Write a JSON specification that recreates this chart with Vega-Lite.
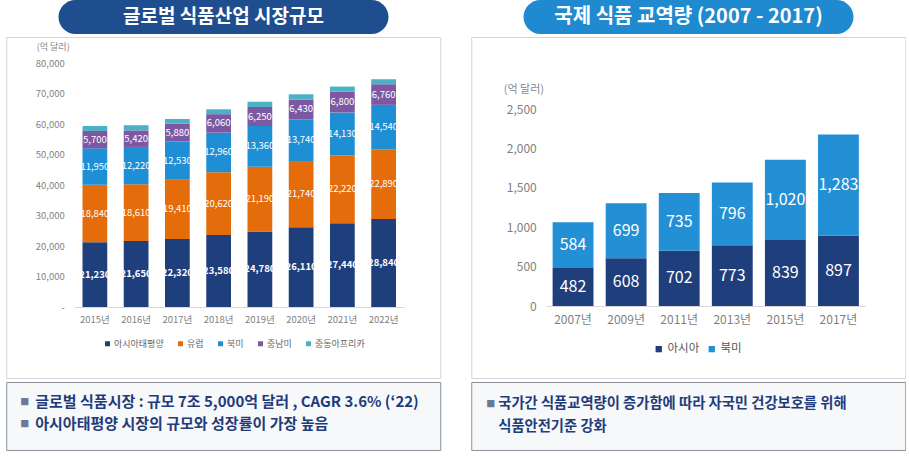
{
  "$schema": "https://vega.github.io/schema/vega-lite/v6.json",
  "background": "white",
  "padding": {"left": 5, "top": 0, "right": 0, "bottom": 0},
  "config": {"font": "Noto Sans CJK KR", "view": {"stroke": null}},
  "spacing": 29,
  "resolve": {"scale": {"color": "independent"}, "legend": {"color": "independent"}},
  "hconcat": [
    {
      "spacing": 2,
      "center": true,
      "vconcat": [
        {
          "width": 330,
          "height": 34,
          "view": {"fill": "#1f4e8e", "stroke": null, "cornerRadius": 17},
          "data": {"values": [{"t": "글로벌 식품산업 시장규모"}]},
          "mark": {"type": "text", "color": "white", "fontSize": 19, "fontWeight": "bold"},
          "encoding": {"text": {"field": "t"}}
        },
        {
          "width": 434,
          "height": 341,
          "view": {"stroke": "#d4d4d4", "fill": "white"},
          "data": {
            "values": [
              {"year": "2015년", "region": "아시아태평양", "ord": 1, "value": 21230},
              {"year": "2015년", "region": "유럽", "ord": 2, "value": 18840},
              {"year": "2015년", "region": "북미", "ord": 3, "value": 11950},
              {"year": "2015년", "region": "중남미", "ord": 4, "value": 5700},
              {"year": "2015년", "region": "중동아프리카", "ord": 5, "value": 1620},
              {"year": "2016년", "region": "아시아태평양", "ord": 1, "value": 21650},
              {"year": "2016년", "region": "유럽", "ord": 2, "value": 18610},
              {"year": "2016년", "region": "북미", "ord": 3, "value": 12220},
              {"year": "2016년", "region": "중남미", "ord": 4, "value": 5420},
              {"year": "2016년", "region": "중동아프리카", "ord": 5, "value": 1700},
              {"year": "2017년", "region": "아시아태평양", "ord": 1, "value": 22320},
              {"year": "2017년", "region": "유럽", "ord": 2, "value": 19410},
              {"year": "2017년", "region": "북미", "ord": 3, "value": 12530},
              {"year": "2017년", "region": "중남미", "ord": 4, "value": 5880},
              {"year": "2017년", "region": "중동아프리카", "ord": 5, "value": 1500},
              {"year": "2018년", "region": "아시아태평양", "ord": 1, "value": 23580},
              {"year": "2018년", "region": "유럽", "ord": 2, "value": 20620},
              {"year": "2018년", "region": "북미", "ord": 3, "value": 12960},
              {"year": "2018년", "region": "중남미", "ord": 4, "value": 6060},
              {"year": "2018년", "region": "중동아프리카", "ord": 5, "value": 1600},
              {"year": "2019년", "region": "아시아태평양", "ord": 1, "value": 24780},
              {"year": "2019년", "region": "유럽", "ord": 2, "value": 21190},
              {"year": "2019년", "region": "북미", "ord": 3, "value": 13360},
              {"year": "2019년", "region": "중남미", "ord": 4, "value": 6250},
              {"year": "2019년", "region": "중동아프리카", "ord": 5, "value": 1720},
              {"year": "2020년", "region": "아시아태평양", "ord": 1, "value": 26110},
              {"year": "2020년", "region": "유럽", "ord": 2, "value": 21740},
              {"year": "2020년", "region": "북미", "ord": 3, "value": 13740},
              {"year": "2020년", "region": "중남미", "ord": 4, "value": 6430},
              {"year": "2020년", "region": "중동아프리카", "ord": 5, "value": 1720},
              {"year": "2021년", "region": "아시아태평양", "ord": 1, "value": 27440},
              {"year": "2021년", "region": "유럽", "ord": 2, "value": 22220},
              {"year": "2021년", "region": "북미", "ord": 3, "value": 14130},
              {"year": "2021년", "region": "중남미", "ord": 4, "value": 6800},
              {"year": "2021년", "region": "중동아프리카", "ord": 5, "value": 1680},
              {"year": "2022년", "region": "아시아태평양", "ord": 1, "value": 28840},
              {"year": "2022년", "region": "유럽", "ord": 2, "value": 22890},
              {"year": "2022년", "region": "북미", "ord": 3, "value": 14540},
              {"year": "2022년", "region": "중남미", "ord": 4, "value": 6760},
              {"year": "2022년", "region": "중동아프리카", "ord": 5, "value": 1650}
            ]
          },
          "transform": [
            {"stack": "value", "groupby": ["year"], "sort": [{"field": "ord", "order": "ascending"}], "as": ["v0", "v1"]},
            {"calculate": "(datum.v0 + datum.v1) / 2", "as": "mid"}
          ],
          "encoding": {
            "x": {
              "field": "year", "type": "nominal",
              "scale": {"range": [68, 398], "paddingInner": 0.4, "paddingOuter": 0.2},
              "axis": {"title": null, "orient": "bottom", "offset": -71, "domainColor": "#d9d9d9", "ticks": false, "labelPadding": 7, "labelFontSize": 9.5, "labelColor": "#7f7f7f", "labelAngle": 0}
            }
          },
          "layer": [
            {
              "mark": {"type": "bar"},
              "encoding": {
                "y": {
                  "field": "v0", "type": "quantitative", "title": "(억 달러)",
                  "scale": {"domain": [0, 80000], "range": [270, 26], "nice": false},
                  "axis": {
                    "title": "(억 달러)", "titleAngle": 0, "titleAlign": "left", "titleBaseline": "middle", "titleX": -38, "titleY": 9,
                    "titleFontSize": 9, "titleFontWeight": "normal", "titleColor": "#888888",
                    "values": [0, 10000, 20000, 30000, 40000, 50000, 60000, 70000, 80000],
                    "labelExpr": "datum.value == 0 ? '-' : format(datum.value, ',')",
                    "labelFontSize": 9.5, "labelColor": "#7f7f7f", "domain": false, "ticks": false, "grid": false, "offset": -68, "labelPadding": 10
                  }
                },
                "y2": {"field": "v1"},
                "color": {
                  "field": "region", "type": "nominal",
                  "scale": {"domain": ["아시아태평양", "유럽", "북미", "중남미", "중동아프리카"], "range": ["#1f3e7c", "#e46c0a", "#1f8fd5", "#7d58a2", "#4bb2c5"]},
                  "legend": {"title": null, "orient": "none", "legendX": 97, "legendY": 339, "direction": "horizontal", "symbolType": "square", "symbolSize": 25, "symbolStrokeWidth": 0, "labelFontSize": 9, "labelColor": "#666666", "columnPadding": 12, "labelOffset": 2}
                }
              }
            },
            {
              "transform": [{"filter": "datum.ord == 1"}],
              "mark": {"type": "text", "color": "white", "fontSize": 9.5, "fontWeight": "bold"},
              "encoding": {
                "y": {"field": "mid", "type": "quantitative", "title": "(억 달러)"},
                "text": {"field": "value", "type": "quantitative", "format": ","}
              }
            },
            {
              "transform": [{"filter": "datum.ord >= 2 && datum.ord <= 4"}],
              "mark": {"type": "text", "color": "white", "fontSize": 9.5},
              "encoding": {
                "y": {"field": "mid", "type": "quantitative", "title": "(억 달러)"},
                "text": {"field": "value", "type": "quantitative", "format": ","}
              }
            }
          ]
        },
        {
          "width": 434,
          "height": 68,
          "view": {"stroke": "#8a8f99", "fill": "#f7f8fa"},
          "data": {"values": [
            {"line": 1, "b": "■", "t": "글로벌 식품시장 : 규모 7조 5,000억 달러 , CAGR 3.6% (‘22)"},
            {"line": 2, "b": "■", "t": "아시아태평양 시장의 규모와 성장률이 가장 높음"}
          ]},
          "encoding": {"y": {"field": "line", "type": "ordinal", "axis": null, "scale": {"type": "point", "range": [20, 42], "padding": 0}}},
          "layer": [
            {"mark": {"type": "text", "align": "left", "fontSize": 9, "color": "#6a7a96"}, "encoding": {"x": {"value": 14}, "text": {"field": "b"}}},
            {"mark": {"type": "text", "align": "left", "fontSize": 15, "fontWeight": "bold", "color": "#1f3c7a"}, "encoding": {"x": {"value": 29}, "text": {"field": "t"}}}
          ]
        }
      ]
    },
    {
      "spacing": 2,
      "center": true,
      "vconcat": [
        {
          "width": 330,
          "height": 34,
          "view": {"fill": "#1f8ad0", "stroke": null, "cornerRadius": 17},
          "data": {"values": [{"t": "국제 식품 교역량 (2007 - 2017)"}]},
          "mark": {"type": "text", "color": "white", "fontSize": 20, "fontWeight": "bold"},
          "encoding": {"text": {"field": "t"}}
        },
        {
          "width": 434,
          "height": 341,
          "view": {"stroke": "#d4d4d4", "fill": "white"},
          "data": {
            "values": [
              {"yr": "2007년", "area": "아시아", "ord": 1, "amount": 482},
              {"yr": "2007년", "area": "북미", "ord": 2, "amount": 584},
              {"yr": "2009년", "area": "아시아", "ord": 1, "amount": 608},
              {"yr": "2009년", "area": "북미", "ord": 2, "amount": 699},
              {"yr": "2011년", "area": "아시아", "ord": 1, "amount": 702},
              {"yr": "2011년", "area": "북미", "ord": 2, "amount": 735},
              {"yr": "2013년", "area": "아시아", "ord": 1, "amount": 773},
              {"yr": "2013년", "area": "북미", "ord": 2, "amount": 796},
              {"yr": "2015년", "area": "아시아", "ord": 1, "amount": 839},
              {"yr": "2015년", "area": "북미", "ord": 2, "amount": 1020},
              {"yr": "2017년", "area": "아시아", "ord": 1, "amount": 897},
              {"yr": "2017년", "area": "북미", "ord": 2, "amount": 1283}
            ]
          },
          "transform": [
            {"stack": "amount", "groupby": ["yr"], "sort": [{"field": "ord", "order": "ascending"}], "as": ["a0", "a1"]},
            {"calculate": "(datum.a0 + datum.a1) / 2", "as": "amid"}
          ],
          "encoding": {
            "x": {
              "field": "yr", "type": "nominal",
              "scale": {"range": [75, 394], "paddingInner": 0.23, "paddingOuter": 0.12},
              "axis": {"title": null, "orient": "bottom", "offset": -72, "domainColor": "#d9d9d9", "ticks": false, "labelPadding": 8, "labelFontSize": 12, "labelColor": "#7f7f7f", "labelAngle": 0}
            }
          },
          "layer": [
            {
              "mark": {"type": "bar"},
              "encoding": {
                "y": {
                  "field": "a0", "type": "quantitative", "title": "(억 달러)",
                  "scale": {"domain": [0, 2500], "range": [269, 72.3], "nice": false},
                  "axis": {
                    "title": "(억 달러)", "titleAngle": 0, "titleAlign": "left", "titleBaseline": "middle", "titleX": -43, "titleY": 52,
                    "titleFontSize": 11, "titleFontWeight": "normal", "titleColor": "#888888",
                    "values": [0, 500, 1000, 1500, 2000, 2500],
                    "labelExpr": "format(datum.value, ',')",
                    "labelFontSize": 12, "labelColor": "#7f7f7f", "domain": false, "ticks": false, "grid": false, "offset": -75, "labelPadding": 10
                  }
                },
                "y2": {"field": "a1"},
                "color": {
                  "field": "area", "type": "nominal",
                  "scale": {"domain": ["아시아", "북미"], "range": ["#1f3e7c", "#2390d5"]},
                  "legend": {"title": null, "orient": "none", "legendX": 182, "legendY": 343, "direction": "horizontal", "symbolType": "square", "symbolSize": 40, "symbolStrokeWidth": 0, "labelFontSize": 11.5, "labelColor": "#555555", "columnPadding": 6, "labelOffset": 3}
                }
              }
            },
            {
              "mark": {"type": "text", "color": "white", "fontSize": 16},
              "encoding": {
                "y": {"field": "amid", "type": "quantitative", "title": "(억 달러)"},
                "text": {"field": "amount", "type": "quantitative", "format": ","}
              }
            }
          ]
        },
        {
          "width": 434,
          "height": 68,
          "view": {"stroke": "#8a8f99", "fill": "#f7f8fa"},
          "data": {"values": [
            {"line": 1, "b": "■", "t": "국가간 식품교역량이 증가함에 따라 자국민 건강보호를 위해"},
            {"line": 2, "b": "", "t": "식품안전기준 강화"}
          ]},
          "encoding": {"y": {"field": "line", "type": "ordinal", "axis": null, "scale": {"type": "point", "range": [22, 45], "padding": 0}}},
          "layer": [
            {"mark": {"type": "text", "align": "left", "fontSize": 9, "color": "#6a7a96"}, "encoding": {"x": {"value": 15}, "text": {"field": "b"}}},
            {"mark": {"type": "text", "align": "left", "fontSize": 14.3, "fontWeight": "bold", "color": "#1f3c7a"}, "encoding": {"x": {"value": 27}, "text": {"field": "t"}}}
          ]
        }
      ]
    }
  ]
}
